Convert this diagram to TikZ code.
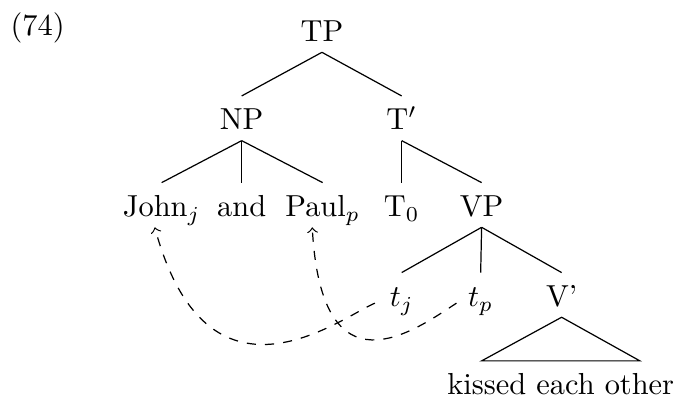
\documentclass[tikz,border=0pt]{standalone}

\begin{document}
\begin{tikzpicture}[
  cat/.style={anchor=base, inner sep=0pt, text height=11pt, text depth=3.3pt},
  mv/.style={->, dashed},
]
\useasboundingbox (0,0) rectangle (7.85,-4.66);

% example number
\node[anchor=base west, inner sep=0pt] (exnum) at (0.116,-0.405) {(74)};

% TP and its daughters
\node[cat] (TP)   at (3.722,-0.482) {TP};
\node[cat] (NP)   at (2.794,-1.503) {NP};
\node[cat] (Tbar) at (4.644,-1.503) {T$'$};

% coordinated subject, T and VP
\node[cat] (john) at (1.869,-2.505) {John$_j$};
\node[cat] (and)  at (2.794,-2.505) {and};
\node[cat] (paul) at (3.730,-2.505) {Paul$_p$};
\node[cat] (T0)   at (4.644,-2.505) {T$_0$};
\node[cat] (VP)   at (5.568,-2.505) {VP};

% traces and V'
\node[cat] (tj)   at (4.644,-3.545) {$t_j$};
\node[cat] (tp)   at (5.557,-3.545) {$t_p$};
\node[cat] (Vbar) at (6.493,-3.545) {V'};
\node[cat] (kiss) at (6.483,-4.566) {kissed each other};

% branches
\draw (TP.south) -- (NP.north);
\draw (TP.south) -- (Tbar.north);
\foreach \d in {john,and,paul}
  \draw (NP.south) -- (\d.north);
\draw (Tbar.south) -- (T0.north);
\draw (Tbar.south) -- (VP.north);
\foreach \d in {tj,tp,Vbar}
  \draw (VP.south) -- (\d.north);

% roof over V'
\draw (Vbar.south) -- ([xshift=-0.915cm]kiss.north) -- ([xshift=0.915cm]kiss.north) -- cycle;

% movement from the traces
\draw[mv] ([xshift=-0.31cm,yshift=0.04cm]tj.base)
  .. controls +(-0.405,-0.173) and +(0.613,-2.254) .. ([xshift=-0.08cm]john.south);
\draw[mv] ([xshift=-0.28cm,yshift=0.04cm]tp.base)
  .. controls +(-0.498,-0.327) and +(0.106,-1.970) .. ([xshift=-0.12cm]paul.south);

\end{tikzpicture}
\end{document}
